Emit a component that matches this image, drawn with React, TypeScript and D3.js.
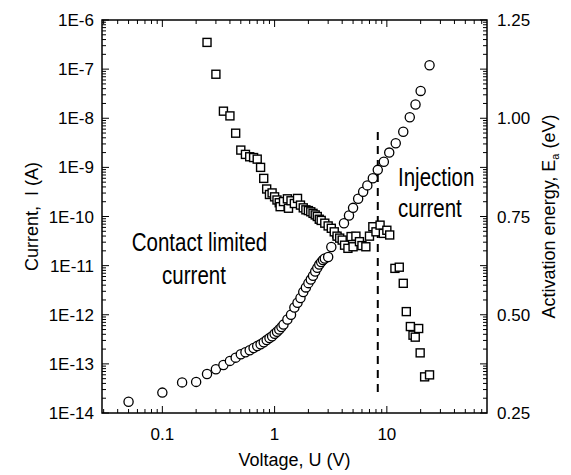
import React from 'react';
import * as d3 from 'd3';

// circles: current vs voltage (left axis, log)
const ivVoltage = [
  0.05, 0.1, 0.15, 0.2, 0.25, 0.3, 0.35, 0.4, 0.45, 0.5, 0.55, 0.6, 0.65, 0.7, 0.75, 0.8, 0.85, 0.9, 0.95,
  1.0, 1.05, 1.1, 1.15, 1.2, 1.3, 1.4, 1.5, 1.6, 1.7, 1.8, 1.9, 2.0, 2.1, 2.2, 2.3, 2.4, 2.5, 2.6, 2.7, 2.8,
  3.0, 3.2, 3.6, 4.15, 4.6, 5.0, 5.55, 6.15, 6.7, 7.5, 8.3, 9.4, 10.5, 12, 14, 16, 18, 20, 24,
];
const ivCurrent = [
  1.7e-14, 2.6e-14, 4.2e-14, 4.3e-14, 6.2e-14, 7.8e-14, 9.5e-14, 1.15e-13, 1.34e-13, 1.57e-13, 1.72e-13, 1.9e-13,
  2.1e-13, 2.3e-13, 2.5e-13, 2.75e-13, 3.05e-13, 3.35e-13, 3.65e-13,
  4.1e-13, 4.5e-13, 5.0e-13, 5.6e-13, 6.3e-13, 8.0e-13, 1.0e-12, 1.4e-12, 1.75e-12, 2.2e-12, 2.9e-12, 3.6e-12,
  4.4e-12, 5.2e-12, 6.2e-12, 7.6e-12, 9.0e-12, 1.05e-11, 1.18e-11, 1.3e-11, 1.4e-11,
  1.5e-11, 2.4e-11, 4.0e-11, 7.3e-11, 1.05e-10, 1.5e-10, 2.3e-10, 3.2e-10, 4.3e-10, 6e-10, 8.9e-10, 1.3e-9, 2e-9,
  3.1e-9, 5.3e-9, 1.05e-8, 1.9e-8, 3.6e-8, 1.2e-7,
];

// squares: activation energy vs voltage (right axis, linear)
const eaVoltage = [
  0.25, 0.3, 0.35, 0.4, 0.45, 0.5, 0.55, 0.6, 0.65, 0.7, 0.75, 0.8, 0.85, 0.9, 0.95, 1.0, 1.05, 1.1, 1.12, 1.2,
  1.3, 1.33, 1.4, 1.5, 1.6, 1.7, 1.8, 1.9, 2.0, 2.1, 2.2, 2.3, 2.4, 2.5, 2.6, 2.8, 3.0, 3.2, 3.4, 3.6, 3.8,
  4.0, 4.2, 4.5, 4.8, 5.0, 5.3, 5.7, 6.0, 6.5, 7.0, 7.5, 8.0, 8.7, 9.3, 10.0, 10.6,
  11.8, 12.9, 14.0, 14.9, 16.2, 17.1, 17.9, 19.2, 19.8, 21.7, 24.0,
];
const eaEnergy = [
  1.193, 1.112, 1.018, 1.006, 0.962, 0.919, 0.908, 0.902, 0.9, 0.896, 0.875, 0.847, 0.82, 0.806, 0.81, 0.8, 0.792,
  0.785, 0.775, 0.788, 0.795, 0.771, 0.79, 0.783, 0.796, 0.779, 0.772, 0.767, 0.765, 0.762, 0.758, 0.754, 0.75,
  0.743, 0.74, 0.733, 0.726, 0.72, 0.711, 0.7, 0.695, 0.69, 0.677, 0.669, 0.699, 0.673, 0.7, 0.686, 0.676, 0.673,
  0.7, 0.724, 0.711, 0.728, 0.707, 0.715, 0.703,
  0.618, 0.621, 0.58, 0.508, 0.47, 0.448, 0.443, 0.465, 0.403, 0.342, 0.347,
];

const xTickLabels = [0.1, 1, 10];
const yLeftTicks = [1e-6, 1e-7, 1e-8, 1e-9, 1e-10, 1e-11, 1e-12, 1e-13, 1e-14];
const yRightTicks = [0.25, 0.5, 0.75, 1.0, 1.25];
const dashVoltage = 8.3;
const dashEnergy = [0.965, 0.29];

const FONT = '"Liberation Sans", Arial, sans-serif';

const L = 102, R = 487, T = 20, B = 413;

// annotation text, a bit taller than wide like the original
function Note({ x, y, anchor, children }: { x: number; y: number; anchor: string; children: string }) {
  return (
    <text transform={`translate(${x},${y}) scale(1,1.28)`} textAnchor={anchor} fontSize={20.5}>{children}</text>
  );
}

export default function App() {
  const x = d3.scaleLog().domain([0.029, 78]).range([L, R]);
  const yI = d3.scaleLog().domain([1e-14, 1e-6]).range([B, T]);
  const yE = d3.scaleLinear().domain([0.25, 1.25]).range([B, T]);

  // minor + major log ticks
  const xTicks: { v: number; major: boolean }[] = [];
  for (let e = -2; e <= 1; e++) {
    for (let m = 1; m <= 9; m++) {
      const v = m * Math.pow(10, e);
      if (v >= 0.029 && v <= 78) xTicks.push({ v, major: m === 1 });
    }
  }
  const yTicks: { v: number; major: boolean }[] = [];
  for (let e = -14; e <= -7; e++) {
    for (let m = 1; m <= 9; m++) yTicks.push({ v: m * Math.pow(10, e), major: m === 1 });
  }
  yTicks.push({ v: 1e-6, major: true });

  const MJ = 7, MN = 4;
  const sq = 8;

  return (
    <svg width={571} height={475} style={{ position: 'absolute', left: 0, top: 0, background: '#fff' }} fontFamily={FONT}>
      {/* dashed line */}
      <line x1={x(dashVoltage)} x2={x(dashVoltage)} y1={yE(dashEnergy[0])} y2={yE(dashEnergy[1])}
        stroke="#000" strokeWidth={2} strokeDasharray="8,6" />

      {/* circles */}
      {ivVoltage.map((v, i) => (
        <circle key={'c' + i} cx={x(v)} cy={yI(ivCurrent[i])} r={4.6} fill="#fff" stroke="#000" strokeWidth={1.3} />
      ))}
      {/* squares */}
      {eaVoltage.map((v, i) => (
        <rect key={'s' + i} x={x(v) - sq / 2} y={yE(eaEnergy[i]) - sq / 2} width={sq} height={sq}
          fill="#fff" stroke="#000" strokeWidth={1.4} />
      ))}

      {/* frame */}
      <rect x={L} y={T} width={R - L} height={B - T} fill="none" stroke="#000" strokeWidth={1.5} />

      {/* x ticks bottom + top */}
      {xTicks.map((t, i) => {
        const len = t.major ? MJ : MN;
        return (
          <g key={'xt' + i}>
            <line x1={x(t.v)} x2={x(t.v)} y1={B} y2={B - len} stroke="#000" strokeWidth={1} />
            <line x1={x(t.v)} x2={x(t.v)} y1={T} y2={T + len} stroke="#000" strokeWidth={1} />
          </g>
        );
      })}
      {/* y ticks left + right (mirrored) */}
      {yTicks.map((t, i) => {
        const len = t.major ? MJ : MN;
        return (
          <g key={'yt' + i}>
            <line x1={L} x2={L + len} y1={yI(t.v)} y2={yI(t.v)} stroke="#000" strokeWidth={1} />
            <line x1={R} x2={R - len} y1={yI(t.v)} y2={yI(t.v)} stroke="#000" strokeWidth={1} />
          </g>
        );
      })}

      {/* tick labels */}
      {xTickLabels.map(v => (
        <text key={'xl' + v} x={x(v)} y={B + 27} textAnchor="middle" fontSize={17}>{String(v)}</text>
      ))}
      {yLeftTicks.map(v => (
        <text key={'yl' + v} x={L - 8} y={yI(v) + 6} textAnchor="end" fontSize={17}>
          {'1E' + Math.round(Math.log10(v))}
        </text>
      ))}
      {yRightTicks.map(v => (
        <text key={'yr' + v} x={R + 10} y={yE(v) + 6} textAnchor="start" fontSize={17}>{d3.format('.2f')(v)}</text>
      ))}

      {/* axis titles */}
      <text x={(L + R) / 2} y={466} textAnchor="middle" fontSize={18}>Voltage, U (V)</text>
      <text transform={`translate(38,${(T + B) / 2}) rotate(-90)`} textAnchor="middle" fontSize={18}
        style={{ whiteSpace: 'pre' }}>{'Current,  I (A)'}</text>
      <text transform={`translate(555,${(T + B) / 2}) rotate(-90)`} textAnchor="middle" fontSize={18}>
        Activation energy, E<tspan fontSize={11} dy={4}>a</tspan><tspan dy={-4}> (eV)</tspan>
      </text>

      {/* annotations */}
      <Note x={199.5} y={251} anchor="middle">Contact limited</Note>
      <Note x={194} y={284} anchor="middle">current</Note>
      <Note x={398} y={186} anchor="start">Injection</Note>
      <Note x={398} y={217} anchor="start">current</Note>
    </svg>
  );
}
